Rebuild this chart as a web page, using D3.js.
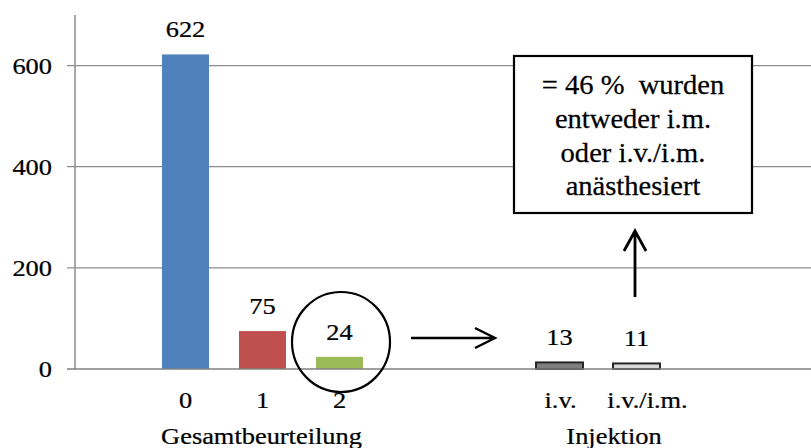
<html>
<head>
  <meta charset="UTF-8">
  <script src="https://cdn.jsdelivr.net/npm/d3@7"></script>
  <style>
  body { margin: 0; background: #fff; }
  svg { display: block; }
  text { font-family: "Liberation Serif", "Times New Roman", serif; fill: #000; stroke: #000; stroke-width: 0.25px; }
  </style>
</head>
<body>
<div id="chart"></div>
<script>

// data
const gesamtCategories = ["0", "1", "2"];
const gesamtValues = [622, 75, 24];
const gesamtColors = ["#4f81bd", "#c0504d", "#9bbb59"];

const injektionCategories = ["i.v.", "i.v./i.m."];
const injektionValues = [13, 11];
const injektionColors = ["#7f7f7f", "#d9d9d9"];

const groupLabels = ["Gesamtbeurteilung", "Injektion"];
const yTicks = [0, 200, 400, 600];
const noteLines = ["= 46 %  wurden", "entweder i.m.", "oder i.v./i.m.", "anästhesiert"];

// layout
const W = 811, H = 448;
const axisX = 75, plotTop = 15, plotBottom = 369, plotRight = 811;
const fontSize = 24;
const stretch = 1.1; // text in the picture is a bit wide

const svg = d3.select('#chart').append('svg')
  .attr('width', W)
  .attr('height', H);

const y = d3.scaleLinear().domain([0, 700]).range([plotBottom, plotTop]);

const xGesamt = d3.scaleBand().domain(gesamtCategories)
  .range([147, 378]).paddingInner(0.39).paddingOuter(0.195);
const xInj = d3.scaleBand().domain(injektionCategories)
  .range([521, 675]).paddingInner(0.39).paddingOuter(0.195);

// puts text at (x, y) and widens it a little
function place(sel, fx, fy, sx) {
  const s = sx || stretch;
  sel.attr('transform', (d, i) => `translate(${fx(d, i)},${fy(d, i)}) scale(${s},1)`);
}

// grid lines
svg.append('g').selectAll('line')
  .data(yTicks.filter(d => d > 0))
  .join('line')
    .attr('x1', axisX - 8)
    .attr('x2', plotRight)
    .attr('y1', d => y(d))
    .attr('y2', d => y(d))
    .attr('stroke', '#8c8c8c')
    .attr('stroke-width', 1.3);

// y axis line
svg.append('line')
  .attr('x1', axisX).attr('x2', axisX)
  .attr('y1', plotTop).attr('y2', plotBottom)
  .attr('stroke', '#8c8c8c')
  .attr('stroke-width', 1.5);

// y tick labels
svg.append('g').selectAll('text')
  .data(yTicks)
  .join('text')
    .attr('dy', '0.34em')
    .attr('text-anchor', 'end')
    .style('font-size', fontSize + 'px')
    .text(d => d)
    .call(place, () => 52, d => y(d));

function drawGroup(cats, vals, colors, x, outline, labelShift) {
  const g = svg.append('g');
  const rows = cats.map((c, i) => ({ c: c, v: vals[i], color: colors[i] }));
  g.selectAll('rect')
    .data(rows)
    .join('rect')
      .attr('x', d => x(d.c))
      .attr('width', x.bandwidth())
      .attr('y', d => y(d.v))
      .attr('height', d => y(0) - y(d.v))
      .attr('fill', d => d.color)
      .attr('stroke', outline ? '#262626' : 'none')
      .attr('stroke-width', outline ? 2 : 0);
  g.selectAll('.val')
    .data(rows)
    .join('text')
      .attr('class', 'val')
      .attr('text-anchor', 'middle')
      .style('font-size', fontSize + 'px')
      .text(d => d.v)
      .call(place, d => x(d.c) + x.bandwidth() / 2, d => y(d.v) - 17);
  g.selectAll('.cat')
    .data(rows)
    .join('text')
      .attr('class', 'cat')
      .attr('text-anchor', 'middle')
      .style('font-size', fontSize + 'px')
      .text(d => d.c)
      .call(place, (d, i) => x(d.c) + x.bandwidth() / 2 + (labelShift[i] || 0), () => plotBottom + 39);
}

drawGroup(gesamtCategories, gesamtValues, gesamtColors, xGesamt, false, []);
drawGroup(injektionCategories, injektionValues, injektionColors, xInj, true, [1, 11]);

// x axis line
svg.append('line')
  .attr('x1', axisX - 8).attr('x2', plotRight)
  .attr('y1', y(0)).attr('y2', y(0))
  .attr('stroke', '#808080')
  .attr('stroke-width', 1.6);

// group labels
const groupScales = [xGesamt, xInj];
const groupShift = [-1, 16];
svg.append('g').selectAll('text')
  .data(groupLabels)
  .join('text')
    .attr('text-anchor', 'middle')
    .style('font-size', fontSize + 'px')
    .text(d => d)
    .call(place, (d, i) => {
      const r = groupScales[i].range();
      return (r[0] + r[1]) / 2 + groupShift[i];
    }, () => plotBottom + 75);

// annotations
svg.append('ellipse')
  .attr('cx', 341).attr('cy', 342)
  .attr('rx', 49).attr('ry', 50)
  .attr('fill', 'none')
  .attr('stroke', '#000')
  .attr('stroke-width', 2.2);

svg.append('path')
  .attr('d', 'M411,338 L495,338 M475,328 L495,338 L475,348')
  .attr('fill', 'none')
  .attr('stroke', '#000')
  .attr('stroke-width', 2.4);

svg.append('path')
  .attr('d', 'M635,297 L635,231 M624,251 L635,231 L646,251')
  .attr('fill', 'none')
  .attr('stroke', '#000')
  .attr('stroke-width', 2.8);

svg.append('rect')
  .attr('x', 514).attr('y', 56)
  .attr('width', 238).attr('height', 157)
  .attr('fill', '#fff')
  .attr('stroke', '#000')
  .attr('stroke-width', 2.2);

svg.append('g').selectAll('text')
  .data(noteLines)
  .join('text')
    .attr('text-anchor', 'middle')
    .style('font-size', '28px')
    .style('white-space', 'pre')
    .text(d => d)
    .call(place, () => 633, (d, i) => 94 + i * 33.8, 1.02);

</script>
</body>
</html>
